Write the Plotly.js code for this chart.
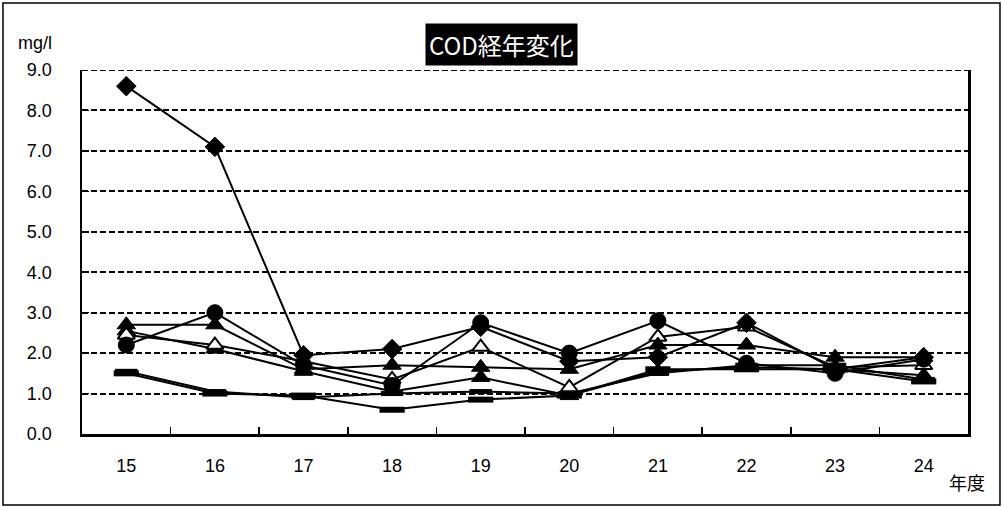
<!DOCTYPE html>
<html><head><meta charset="utf-8">
<script src="https://cdn.plot.ly/plotly-3.0.1.min.js"></script>
<style>html,body{margin:0;padding:0;background:#fff}#chart{width:1002px;height:506px}</style>
</head><body><div id="chart"></div>
<script>
const years = ['15','16','17','18','19','20','21','22','23','24'];
const seriesDiamond  = [8.6, 7.1, 1.95, 2.1, 2.65, 1.8, 1.9, 2.75, 1.6, 1.9];
const seriesCircle   = [2.2, 3.0, 1.7, 1.2, 2.75, 2.0, 2.8, 1.75, 1.5, 1.85];
const seriesTriA     = [2.7, 2.7, 1.6, 1.7, 1.65, 1.6, 2.2, 2.2, 1.9, 1.9];
const seriesTriB     = [2.55, 2.1, 1.55, 1.05, 1.4, 0.95, 1.55, 1.65, 1.6, 1.45];
const seriesTriOpen  = [2.45, 2.2, 1.8, 1.35, 2.15, 1.15, 2.4, 2.65, 1.65, 1.7];
const seriesRectA    = [1.5, 1.0, 0.95, 0.6, 0.85, 0.95, 1.6, 1.6, 1.6, 1.3];
const seriesRectB    = [1.55, 1.05, 0.9, 1.0, 1.05, 1.0, 1.5, 1.7, 1.7, 1.35];
const yTicks = [0,1,2,3,4,5,6,7,8,9];

const FONT = 'Liberation Sans, Arial, "Noto Sans CJK JP", sans-serif';
function tr(y, symbol, size, extra) {
  return Object.assign({
    x: years, y: y, type: 'scatter', mode: 'lines+markers',
    line: {color: '#000', width: 2},
    marker: {symbol: symbol, size: size, color: '#000', line: {color: '#000', width: 1}},
    cliponaxis: false, showlegend: false, hoverinfo: 'skip'
  }, extra || {});
}
const data = [
  tr(seriesRectA, 'line-ew', 18, {marker:{symbol:'line-ew', size:18, color:'#000', line:{color:'#000', width:6}}}),
  tr(seriesRectB, 'line-ew', 16, {marker:{symbol:'line-ew', size:16, color:'#000', line:{color:'#000', width:5}}}),
  tr(seriesTriB, 'triangle-up', 16),
  tr(seriesTriOpen, 'triangle-up', 15, {marker:{symbol:'triangle-up', size:15, color:'#fff', line:{color:'#000', width:2}}}),
  tr(seriesTriA, 'triangle-up', 16),
  tr(seriesCircle, 'circle', 16),
  tr(seriesDiamond, 'diamond', 15)
];
const layout = {
  width: 1002, height: 506,
  margin: {l: 82, r: 34, t: 70, b: 72},
  paper_bgcolor: '#fff', plot_bgcolor: '#fff',
  font: {family: FONT, color: '#000', size: 18},
  xaxis: {
    type: 'category', categoryarray: years, range: [-0.5, 9.5],
    showgrid: false, showline: true, linecolor: '#000', linewidth: 2.5,
    ticks: 'inside', ticklen: 7, tickwidth: 1.5, tickcolor: '#000', tickson: 'boundaries',
    tickfont: {family: FONT, size: 18}, ticklabelstandoff: 14, zeroline: false, fixedrange: true
  },
  yaxis: {
    range: [0, 9], tickvals: yTicks, tickformat: '.1f',
    showgrid: true, gridcolor: '#000', gridwidth: 2, griddash: '6px,3px',
    showline: true, linecolor: '#000', linewidth: 2.5, mirror: true,
    ticks: 'inside', ticklen: 7, tickwidth: 1.5, tickcolor: '#000',
    tickfont: {family: FONT, size: 18}, ticklabelstandoff: 24, zeroline: false, fixedrange: true
  },
  shapes: [
    {type: 'rect', xref: 'paper', yref: 'paper', x0: -0.0892, x1: 1.0361, y0: -0.195, y1: 1.184,
     line: {color: '#000', width: 1.5}, fillcolor: 'rgba(0,0,0,0)', layer: 'below'},
    {type: 'line', xref: 'paper', yref: 'y', x0: 0, x1: 1, y0: 9, y1: 9,
     line: {color: '#000', width: 2, dash: '6px,3px'}, layer: 'below'}
  ],
  annotations: [
    {text: 'COD経年変化', xref: 'paper', yref: 'paper', x: 0.474, y: 1.071, showarrow: false,
     font: {family: '"Noto Sans CJK JP", Liberation Sans, sans-serif', size: 24, color: '#fff'},
     bgcolor: '#000', borderpad: 3, xanchor: 'center', yanchor: 'middle'},
    {text: 'mg/l', xref: 'paper', yref: 'paper', x: -0.074, y: 1.075, showarrow: false,
     font: {family: FONT, size: 18}, xanchor: 'left', yanchor: 'middle'},
    {text: '年度', xref: 'paper', yref: 'paper', x: 0.976, y: -0.132, showarrow: false,
     font: {family: '"Noto Sans CJK JP", sans-serif', size: 18}, xanchor: 'left', yanchor: 'middle'}
  ]
};
Plotly.newPlot('chart', data, layout, {staticPlot: true, displayModeBar: false});
</script></body></html>
